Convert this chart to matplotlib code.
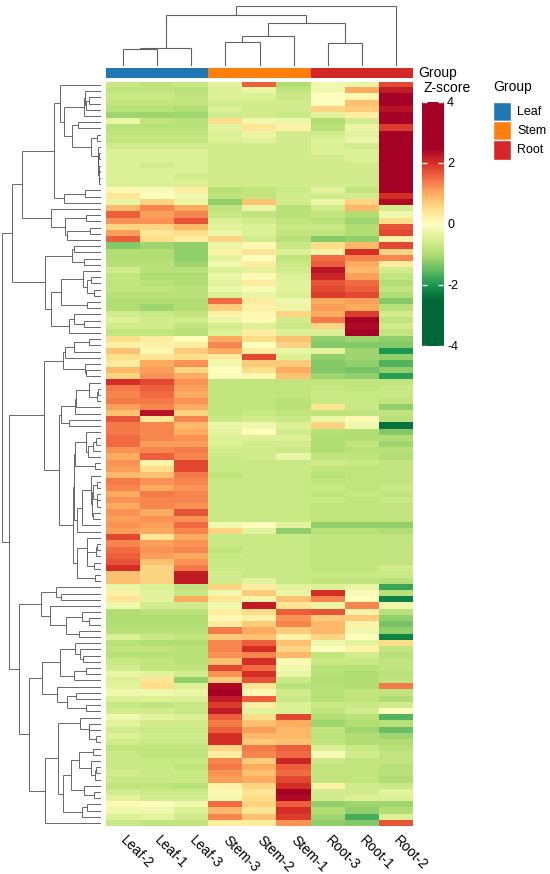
import numpy as np
import matplotlib
matplotlib.use('Agg')
import matplotlib.pyplot as plt
from matplotlib.colors import LinearSegmentedColormap, Normalize
from matplotlib.collections import LineCollection

plt.rcParams['font.family'] = ['Liberation Sans', 'DejaVu Sans']

# samples in display (clustered) order
samples = ['Leaf-2', 'Leaf-1', 'Leaf-3', 'Stem-3', 'Stem-2', 'Stem-1', 'Root-3', 'Root-1', 'Root-2']
sample_group = ['Leaf', 'Leaf', 'Leaf', 'Stem', 'Stem', 'Stem', 'Root', 'Root', 'Root']
group_names = ['Leaf', 'Stem', 'Root']
group_colors = ['#1f77b4', '#ff7f0e', '#d62728']

# column dendrogram (scipy-like linkage: left id, right id, height)
col_merges = [(0, 1, 16.4), (9, 2, 18.0), (3, 4, 23.4), (11, 5, 30.0),
              (6, 7, 22.7), (12, 13, 43.0), (10, 14, 50.7), (15, 8, 59.7)]

z_ticks = [-4, -2, 0, 2, 4]

# z-scores, rows top to bottom, columns in sample order
z_part1 = [
    [-0.7, -0.8, -0.7, -0.4, 1.6, -1.0, -0.2, -0.3, 1.8],
    [-0.8, -0.8, -0.9, -0.5, -0.3, -0.8, -0.2, 1.0, 2.2],
    [-0.7, -0.7, -0.8, -0.5, -0.5, -0.7, 0.0, 0.1, 2.6],
    [-0.8, -0.8, -0.8, -0.6, -0.6, -0.6, 0.0, 0.8, 2.8],
    [-0.9, -0.9, -1.0, -0.5, -0.6, -0.6, 0.6, 0.7, 2.3],
    [-1.1, -1.1, -1.1, -0.6, -0.6, -0.7, -0.4, 0.3, 2.5],
    [-0.3, -0.8, -0.9, 0.5, -0.2, -0.3, -1.0, -0.6, 2.6],
    [-0.9, -0.9, -0.9, -0.4, 0.4, 0.2, -0.9, -0.3, 1.9],
    [-0.8, -0.8, -0.8, -0.5, -0.3, -0.6, -0.6, -0.4, 2.8],
    [-0.8, -0.8, -0.8, -0.5, -0.4, -0.6, -0.5, -0.3, 3.0],
    [-0.6, -0.6, -0.6, -0.6, -0.6, -0.6, -0.5, -0.6, 3.0],
    [-0.5, -0.5, -0.5, -0.6, -0.6, -0.6, -0.5, -0.5, 3.0],
    [-0.5, -0.5, -0.5, -0.6, -0.6, -0.6, -0.6, -0.5, 3.0],
    [-0.5, -0.6, -0.5, -0.6, -0.6, -0.6, -0.6, -0.6, 3.0],
    [-0.5, -0.5, -0.5, -0.6, -0.6, -0.6, -0.6, -0.6, 3.0],
    [-0.5, -0.5, -0.6, -0.6, -0.6, -0.6, -0.6, -0.6, 3.0],
    [-0.5, -0.5, -0.5, -0.6, -0.6, -0.6, -0.6, -0.6, 3.0],
    [0.1, -0.1, 0.3, -0.9, -0.8, -0.7, -0.4, -0.8, 2.8],
    [0.4, 0.0, -0.2, -0.8, -0.8, -0.6, -0.6, -0.6, 2.0],
    [-0.3, 0.6, -0.3, -1.2, 0.8, -0.6, -0.3, 0.6, 2.4],
]
z_part2 = [
    [0.9, 1.3, 1.0, -0.8, -0.3, -0.9, -0.6, 0.9, -0.6],
    [1.6, 1.1, 1.3, -0.7, -0.8, -0.9, -0.8, -1.0, -0.2],
    [1.2, 1.2, 1.7, -0.5, -0.6, -0.8, -0.9, -1.1, 0.5],
    [0.6, 0.6, 0.9, -0.4, -0.5, -0.7, -0.7, -1.0, 1.7],
    [1.1, 0.4, 0.5, -0.3, -0.5, -0.8, -0.8, -1.0, 1.8],
    [1.6, 0.5, 0.3, 0.6, -0.6, -0.9, -1.3, -1.2, 0.2],
    [-1.3, -1.1, -1.2, -0.3, 0.1, -0.7, 0.5, 0.9, 1.8],
    [-1.0, -1.0, -1.2, 0.2, 0.4, -0.5, 0.2, 2.0, 0.6],
    [-1.0, -1.0, -1.2, -0.4, 0.0, -0.8, 1.5, 1.3, 1.3],
    [-0.9, -0.9, -1.1, -0.2, 0.3, -0.7, 1.6, 1.0, 0.3],
    [-0.6, -0.9, -0.9, -0.5, -0.4, -0.6, 2.3, 0.9, -0.6],
    [-0.8, -1.0, -1.0, -0.3, 0.1, -0.5, 2.1, 1.1, -0.8],
    [-0.8, -0.9, -1.0, -0.4, 0.3, -0.4, 1.7, 1.5, -1.0],
    [-0.8, -0.8, -0.9, -0.3, -0.1, -0.4, 1.8, 1.6, -0.8],
    [-0.9, -0.9, -0.9, -0.5, -0.3, -0.5, 1.9, 1.8, -1.0],
    [-1.0, -1.0, -1.0, 1.5, 0.3, -0.2, 1.0, 1.1, -1.3],
    [-1.0, -1.1, -1.0, 0.7, 0.2, -0.3, 1.1, 1.0, -0.9],
    [-0.6, -0.7, -0.8, 0.2, 0.1, 0.6, 1.0, 1.9, -0.6],
    [-0.5, -0.6, -0.6, -0.3, 0.1, -0.6, 1.4, 2.6, -0.8],
    [-0.6, -0.6, -0.8, -0.6, -0.5, -0.7, 0.6, 2.4, -0.6],
]
z_part3 = [
    [-0.8, -0.8, -0.9, -0.5, 0.3, -0.5, -0.5, 2.5, -0.8],
    [0.5, 0.3, 0.0, 1.0, 0.5, 0.8, -1.2, -1.1, -1.2],
    [0.2, 0.2, 0.3, 1.3, 0.0, 0.6, -1.3, -1.3, -1.3],
    [0.8, 0.1, 0.7, 1.0, 0.3, -0.3, -0.4, -1.1, -2.0],
    [0.5, 0.4, 0.5, 0.3, 1.8, -0.5, -1.2, -1.1, -1.2],
    [0.3, 1.0, 1.2, -0.2, 0.7, 0.7, -1.3, -1.2, -1.6],
    [0.9, 1.1, 0.6, 0.0, 0.5, 1.0, -1.3, -1.4, -1.2],
    [0.6, 1.2, 1.0, -0.1, 0.1, 0.8, -1.1, -1.2, -1.9],
    [2.0, 1.8, 1.2, -0.8, -0.8, -0.8, -0.8, -0.8, -0.8],
    [1.4, 1.6, 1.1, -0.8, -0.8, -0.8, -0.7, -0.8, -0.7],
    [1.3, 1.5, 1.0, -0.8, -0.8, -0.8, -0.7, -0.7, -0.7],
    [1.4, 1.4, 1.2, -0.8, -0.8, -0.9, -0.7, -0.7, -0.8],
    [1.1, 1.3, 1.0, -0.8, -0.8, -0.9, 0.4, -0.7, -1.2],
    [0.8, 2.3, 0.6, -0.8, -0.7, -0.8, -0.8, -0.8, -0.8],
    [1.7, 0.4, 1.3, -0.7, -0.6, -0.7, -0.3, 0.1, -0.9],
    [1.4, 1.3, 0.9, -0.3, -0.2, -0.5, 0.6, -0.2, -2.4],
    [1.4, 1.3, 1.0, -0.4, 0.0, -0.6, -0.9, -1.0, -1.3],
    [1.5, 1.3, 1.2, -0.5, -0.5, -0.5, -1.0, -1.0, -1.0],
    [1.5, 1.1, 1.1, -0.5, -0.6, -0.6, -1.0, -0.8, -1.1],
    [1.2, 1.3, 1.4, -0.6, -0.6, -0.7, -1.0, -0.9, -0.9],
]
z_part4 = [
    [1.0, 1.6, 1.3, -0.7, -0.6, -0.3, -0.8, -0.8, -1.0],
    [1.2, 0.2, 1.8, -0.7, -0.7, -0.7, -0.6, -0.7, -0.8],
    [1.1, 0.5, 1.8, -0.7, -0.7, -0.7, -0.8, -0.8, -0.8],
    [0.9, 0.8, 1.4, -0.8, -0.7, -0.7, -0.9, -0.8, -0.8],
    [1.4, 1.2, 1.3, -0.7, -0.7, -0.7, -0.8, -0.8, -0.8],
    [1.3, 1.0, 1.2, -0.7, -0.7, -0.7, -0.7, -0.8, -0.7],
    [1.0, 1.4, 1.3, -0.7, -0.7, -0.7, -0.8, -0.7, -0.8],
    [1.2, 1.3, 1.3, -0.7, -0.7, -0.7, -0.7, -0.8, -0.7],
    [1.0, 1.3, 1.2, -0.7, -0.7, -0.7, -0.8, -0.8, -0.8],
    [1.2, 1.0, 1.7, -0.7, -0.7, -0.7, -0.8, -0.8, -0.8],
    [1.1, 1.2, 1.2, -0.7, -0.7, -0.7, -0.8, -0.8, -0.8],
    [1.2, 1.1, 1.5, -0.2, 0.0, -0.4, -1.2, -1.2, -1.2],
    [1.1, 1.0, 1.3, 0.6, -0.4, -1.2, -0.9, -0.9, -1.0],
    [1.8, 0.4, 1.0, -0.7, -0.7, -0.7, -0.8, -0.8, -0.8],
    [1.3, 1.1, 1.2, -0.7, -0.7, -0.7, -0.8, -0.8, -0.8],
    [1.5, 1.2, 1.3, -0.8, -0.7, -0.7, -0.8, -0.8, -0.8],
    [1.6, 1.1, 1.0, -0.7, -0.7, -0.7, -0.8, -0.8, -0.8],
    [1.7, 0.8, 1.2, -0.7, -0.7, -0.7, -0.8, -0.8, -0.8],
    [2.0, 0.6, 1.4, -0.7, -0.7, -0.7, -0.8, -0.8, -0.6],
    [0.8, 0.6, 2.2, -0.6, -0.7, -0.7, -0.7, -0.7, -0.7],
]
z_part5 = [
    [0.8, 0.6, 2.2, -0.6, -0.4, -0.7, -0.8, -0.8, -0.9],
    [-0.3, -0.5, -0.8, 0.6, 0.3, -0.4, -0.5, -0.3, -1.8],
    [0.2, -0.4, -0.7, -0.2, 0.7, -0.3, 2.0, -0.1, -0.9],
    [0.4, -0.4, 1.0, 0.4, 0.2, 0.8, 1.3, 0.0, -2.2],
    [-0.2, -0.6, -0.6, -0.2, 2.2, 0.4, -0.3, 1.3, -0.2],
    [-1.0, -0.9, -0.9, 0.3, 0.5, 1.6, 1.7, 0.2, -0.9],
    [-1.0, -1.0, -1.0, 0.1, 0.2, 1.2, 0.7, 0.7, -1.2],
    [-1.0, -1.0, -1.0, 0.3, 0.7, 1.3, 0.9, 0.2, -1.4],
    [-0.9, -0.9, -0.9, 1.4, 1.0, 0.7, 0.9, -0.2, -1.2],
    [-0.5, -0.7, -0.8, 0.7, 0.8, 0.2, 0.6, 0.0, -2.2],
    [-0.9, -1.0, -1.0, 1.3, 1.6, 0.8, -0.2, -0.4, 0.5],
    [-0.8, -0.8, -0.9, 1.3, 2.0, 0.6, 0.0, 0.2, -0.8],
    [-0.9, -0.9, -0.9, 1.2, 1.3, 0.9, -0.8, -0.6, -0.9],
    [-0.7, -0.8, -0.9, 0.8, 2.0, 0.1, -0.7, -0.7, -0.8],
    [-0.6, -0.8, -0.8, 1.8, 1.5, -0.2, -0.9, -0.9, -0.8],
    [-0.3, -0.4, -0.6, 1.2, 2.0, -0.3, -0.9, -1.0, -0.9],
    [-0.5, 0.4, -1.2, 0.7, 1.7, -0.7, -1.0, -1.0, -0.8],
    [-0.4, 0.5, -0.5, 2.4, 0.4, -0.9, -0.9, -1.0, 1.4],
    [-0.2, -0.2, -0.3, 2.6, 0.1, -0.6, -0.9, -0.8, -0.8],
    [-0.5, -0.5, -0.5, 2.2, 1.6, -0.7, -0.9, -0.8, -1.0],
]
z_part6 = [
    [-0.7, -0.8, -0.7, 1.9, 0.3, -0.5, -0.7, -0.7, -0.6],
    [-0.6, -0.6, -0.7, 2.2, -0.4, -0.5, -0.8, -0.6, 0.0],
    [-0.2, -0.4, -0.5, 1.6, 0.5, 1.8, -1.0, -0.9, -1.6],
    [-0.4, -0.6, -0.6, 1.4, 0.8, 1.0, -1.1, -1.0, -0.9],
    [-0.6, -0.7, -0.7, 1.6, 1.1, 0.9, -0.8, -1.1, -1.5],
    [-0.5, -0.6, -0.6, 2.0, 0.9, 0.9, -0.9, -1.0, -1.1],
    [-0.6, -0.7, -0.7, 2.0, 0.7, 0.8, -0.8, -1.0, -1.0],
    [-0.8, -0.8, -0.8, 0.6, 1.4, 1.6, -0.5, -0.7, -0.9],
    [-0.7, -0.8, -0.8, 0.3, 1.3, 1.5, -0.1, -0.6, -0.8],
    [-0.7, -0.7, -0.7, 1.3, 0.7, 2.1, -0.7, -0.8, -0.8],
    [-0.7, -0.7, -0.8, 1.4, 1.0, 1.6, -0.8, -0.8, -0.9],
    [-0.6, -0.7, -0.7, 1.2, 0.8, 1.5, -0.8, -0.8, -0.9],
    [-0.7, -0.7, -0.7, 1.1, 1.0, 1.8, -0.8, -0.8, -1.0],
    [-0.8, -0.8, -0.9, 0.2, 0.6, 2.0, 0.2, -0.6, -0.7],
    [-0.6, -0.7, -0.7, 0.1, 0.4, 2.6, -0.6, -0.6, -0.4],
    [-0.4, -0.6, -0.6, -0.2, 0.5, 2.4, -0.6, -0.5, -0.5],
    [0.1, 0.0, -0.2, 1.5, 0.6, 1.6, -1.2, -1.1, -1.1],
    [-0.2, -0.2, -0.5, 0.9, 0.4, 2.0, -1.0, -1.2, -1.0],
    [-0.5, -0.4, -0.6, 1.3, 0.8, 1.9, -1.1, -1.7, -0.5],
    [-0.7, -0.8, -0.8, 0.3, 0.3, 1.2, -1.2, -1.3, 1.7],
]

Z = np.array(z_part1 + z_part2 + z_part3 + z_part4 + z_part5 + z_part6)
n_rows, n_cols = Z.shape

# RdYlGn reversed, saturating beyond +-2.5
cm_vals = [-4, -2.5, -2, -1.5, -1, -0.5, 0, 0.5, 1, 1.5, 2, 2.5, 4]
cm_cols = ['#006837', '#006837', '#1a9850', '#66bd63', '#b0dd72', '#dcf094', '#ffffbf',
           '#fee08b', '#fdae61', '#f46d43', '#d73027', '#a50026', '#a50026']
cmap = LinearSegmentedColormap.from_list(
    'zs', [((v + 4) / 8, c) for v, c in zip(cm_vals, cm_cols)])
norm = Normalize(vmin=-4, vmax=4)

W, H = 550, 874
fig = plt.figure(figsize=(W / 100, H / 100), dpi=100)


def box(x0, y0, x1, y1):
    # pixel box (top-left origin) -> figure fraction rect
    return [x0 / W, 1 - y1 / H, (x1 - x0) / W, (y1 - y0) / H]


def px(x, y):
    return x / W, 1 - y / H


hm_x0, hm_x1, hm_y0, hm_y1 = 106, 413, 82, 826

# heatmap
ax = fig.add_axes(box(hm_x0, hm_y0, hm_x1, hm_y1))
ax.imshow(Z, cmap=cmap, norm=norm, aspect='auto', interpolation='nearest',
          extent=(0, n_cols, n_rows, 0))
ax.set_xticks(np.arange(n_cols) + 0.5)
ax.set_xticklabels(samples, rotation=-45, ha='left', va='center',
                   rotation_mode='anchor', fontsize=10)
ax.tick_params(axis='x', length=0, pad=9)
ax.set_yticks([])
for s in ax.spines.values():
    s.set_visible(False)

# group annotation bar
ax_ann = fig.add_axes(box(hm_x0, 67.5, hm_x1, 77.5))
ax_ann.bar(np.arange(n_cols) + 0.5, np.ones(n_cols), width=1.0,
           color=[group_colors[group_names.index(g)] for g in sample_group])
ax_ann.set_xlim(0, n_cols)
ax_ann.set_ylim(0, 1)
ax_ann.axis('off')
fig.text(*px(418, 72.5), 'Group', fontsize=10, ha='left', va='center')

# column dendrogram
ax_cd = fig.add_axes(box(hm_x0, 6, hm_x1, 65.7))
node_pos = {i: i + 0.5 for i in range(n_cols)}
node_h = {i: 0.0 for i in range(n_cols)}
col_segs = []
for k, (a, b, h) in enumerate(col_merges):
    col_segs += [[(node_pos[a], node_h[a]), (node_pos[a], h)],
                 [(node_pos[b], node_h[b]), (node_pos[b], h)],
                 [(node_pos[a], h), (node_pos[b], h)]]
    node_pos[n_cols + k] = (node_pos[a] + node_pos[b]) / 2
    node_h[n_cols + k] = h
ax_cd.add_collection(LineCollection(col_segs, colors='#606060', linewidths=0.8))
ax_cd.set_xlim(0, n_cols)
ax_cd.set_ylim(0, col_merges[-1][2])
ax_cd.axis('off')

# row dendrogram: complete linkage restricted to neighbouring rows (keeps row order)
D = np.sqrt(((Z[:, None, :] - Z[None, :, :]) ** 2).sum(-1))
clusters = [{'m': [i], 'pos': i + 0.5, 'h': 0.0} for i in range(n_rows)]
row_segs = []
while len(clusters) > 1:
    dists = [D[np.ix_(clusters[k]['m'], clusters[k + 1]['m'])].max()
             for k in range(len(clusters) - 1)]
    k = int(np.argmin(dists))
    a, b = clusters[k], clusters[k + 1]
    h = max(dists[k], a['h'], b['h'])
    row_segs += [[(a['h'], a['pos']), (h, a['pos'])],
                 [(b['h'], b['pos']), (h, b['pos'])],
                 [(h, a['pos']), (h, b['pos'])]]
    clusters[k:k + 2] = [{'m': a['m'] + b['m'], 'pos': (a['pos'] + b['pos']) / 2, 'h': h}]
ax_rd = fig.add_axes(box(2, hm_y0, 101, hm_y1))
ax_rd.add_collection(LineCollection(row_segs, colors='#505050', linewidths=0.6))
ax_rd.set_xlim(clusters[0]['h'], 0)
ax_rd.set_ylim(n_rows, 0)
ax_rd.axis('off')

# colour legend
fig.text(*px(423, 88), 'Z-score', fontsize=10, ha='left', va='center')
ax_cb = fig.add_axes(box(422, 101.7, 443, 345.7))
grad = np.linspace(4, -4, 400)[:, None]
ax_cb.imshow(grad, cmap=cmap, norm=norm, aspect='auto', extent=(0, 1, -4, 4))
ax_cb.set_xticks([])
ax_cb.set_yticks(z_ticks)
ax_cb.set_yticklabels([str(t) for t in z_ticks], fontsize=9)
ax_cb.yaxis.tick_right()
ax_cb.tick_params(axis='y', direction='in', color='white', length=3.5, width=1,
                  left=True, right=True, pad=3)
for s in ax_cb.spines.values():
    s.set_visible(False)

# group legend
fig.text(*px(493, 87), 'Group', fontsize=10, ha='left', va='center')
ax_lg = fig.add_axes(box(493, 102, 511, 159.5))
ax_lg.barh(np.arange(3) + 0.5, np.ones(3), height=1.0, color=group_colors,
           edgecolor='white', linewidth=1)
ax_lg.set_xlim(0, 1)
ax_lg.set_ylim(3, 0)
ax_lg.axis('off')
for i, g in enumerate(group_names):
    ax_lg.text(1.33, i + 0.5, g, fontsize=9, ha='left', va='center',
               transform=ax_lg.transData, clip_on=False)

fig.savefig('out.png', dpi=100)
